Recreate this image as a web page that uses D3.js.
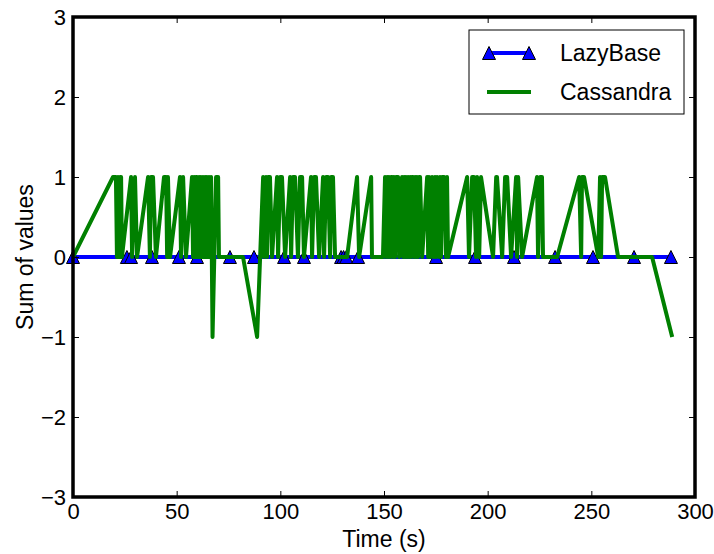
<!DOCTYPE html>
<html>
<head>
<meta charset="utf-8">
<script src="https://cdn.jsdelivr.net/npm/d3@7"></script>
<style>
body { margin: 0; background: #fff; }
text { font-family: "Liberation Sans", Arial, sans-serif; fill: #000; }
</style>
</head>
<body>
<svg id="viz" width="714" height="554"></svg>
<script>

// Data

var lazyTime  = [0, 26.0, 28.0, 38.1, 51.1, 59.8, 75.7, 87.3, 101.8, 111.4, 129.3, 130.5, 131.8, 137.5,
                 175.1, 193.9, 212.7, 232.5, 250.8, 270.6, 288.4];
var lazyValue = [0, 0, 0, 0, 0, 0, 0, 0, 0, 0, 0, 0, 0, 0, 0, 0, 0, 0, 0, 0, 0];

var cassTime = [0,
  19.3, 20.7, 21.2, 21.7, 22.2, 22.7, 23.2, 23.6,
  28.0, 28.5, 29.9, 30.9,
  36.2, 37.1, 37.6, 38.6, 40.0,
  43.9, 44.9, 45.4, 45.8, 46.8,
  51.6, 52.1, 53.1, 54.5,
  57.4, 57.9, 58.4, 58.9, 59.3, 59.8, 60.3, 60.8, 61.3, 61.7, 62.2, 62.7, 63.2, 63.7, 64.2, 64.6, 65.1, 65.6, 66.1, 66.6,
  67.3, 69.0, 70.0, 70.4, 82.0, 88.8, 91.7,
  92.1, 93.1, 93.6, 94.1, 95.0, 96.0,
  98.4, 98.9, 99.9, 100.8, 102.3,
  104.7, 105.2, 106.1, 107.1, 108.5,
  109.5, 110.5, 111.4,
  114.8, 115.3, 116.3, 117.2, 118.7,
  120.6, 121.1, 122.1, 123.0, 124.0, 124.5, 125.4, 126.4,
  132.2, 137.0, 138.0,
  143.8, 144.2, 149.5,
  150.5, 151.0, 151.5, 152.0, 152.4, 152.9, 153.4, 153.9, 154.4, 154.8, 155.3, 155.8, 156.8, 157.3,
  158.7, 159.2, 159.7, 160.2, 160.6, 161.1, 161.6, 162.1, 162.6, 163.0, 163.5, 164.0, 164.5, 165.0, 165.5, 165.9, 166.4, 166.9, 167.4, 168.4,
  170.8, 171.3, 171.7, 172.2, 173.2, 173.7, 174.6, 175.1, 175.6, 176.6, 177.0, 177.5, 178.0, 179.0, 179.9, 180.4, 180.9,
  190.1, 191.0, 192.5, 193.4, 194.4, 194.9, 195.9, 196.8, 202.6,
  204.1, 204.5, 207.0, 208.4, 209.4, 211.3, 213.7, 214.2, 214.7, 216.6,
  223.8, 224.3, 225.3, 226.2, 226.7, 233.5,
  244.1, 245.1, 245.5, 246.5, 253.3,
  254.2, 254.7, 255.2, 256.6, 262.9, 279.3, 289.0];

var cassValue = [0,
  1, 1, 0, 1, 0, 1, 1, 0,
  1, 0, 1, 0,
  1, 0, 1, 1, 0,
  1, 1, 0, 1, 0,
  1, 0, 1, 0,
  1, 0, 1, 0, 1, 1, 0, 1, 0, 1, 0, 1, 0, 1, 0, 1, 0, 1, 0, 1,
  -1, 1, 1, 0, 0, -1, 1,
  0, 1, 0, 1, 1, 0,
  1, 0, 1, 1, 0,
  1, 0, 1, 1, 0,
  1, 1, 0,
  1, 0, 1, 1, 0,
  1, 0, 1, 1, 0, 1, 1, 0,
  0, 1, 0,
  1, 0, 0,
  1, 0, 1, 0, 1, 0, 1, 1, 0, 1, 0, 1, 1, 0,
  1, 0, 1, 0, 1, 0, 1, 0, 1, 0, 1, 1, 0, 1, 0, 1, 0, 1, 1, 0,
  1, 0, 1, 0, 1, 0, 1, 0, 1, 0, 1, 0, 1, 1, 0, 1, 0,
  1, 0, 1, 1, 0, 1, 0, 1, 0,
  1, 1, 0, 1, 1, 0, 1, 0, 1, 0,
  1, 0, 1, 1, 0, 0,
  1, 0, 1, 1, 0,
  1, 0, 1, 1, 0, 0, -1];

var xTicks = [0, 50, 100, 150, 200, 250, 300];
var yTicks = [-3, -2, -1, 0, 1, 2, 3];
var seriesNames = ["LazyBase", "Cassandra"];

// Layout

var svg = d3.select("#viz"),
    plotLeft = 73, plotRight = 695, plotTop = 17, plotBottom = 497;

var x = d3.scaleLinear().domain([0, 300]).range([plotLeft, plotRight]);
var y = d3.scaleLinear().domain([-3, 3]).range([plotBottom, plotTop]);

var lineGen = d3.line()
    .x(d => x(d[0]))
    .y(d => y(d[1]));

// Triangle marker, like matplotlib '^'
var tri = function(s) { return "M0," + (-s) + "L" + s + "," + s + "L" + (-s) + "," + s + "Z"; };

// LazyBase: blue line with triangles

var lazyPts = lazyTime.map((t, i) => [t, lazyValue[i]]);

svg.append("path")
    .attr("d", lineGen(lazyPts))
    .attr("fill", "none")
    .attr("stroke", "#0000ff")
    .attr("stroke-width", 4);

svg.append("g").selectAll("path")
    .data(lazyPts)
    .enter().append("path")
    .attr("transform", d => "translate(" + x(d[0]) + "," + y(d[1]) + ")")
    .attr("d", tri(6.5))
    .attr("fill", "#0000ff")
    .attr("stroke", "#000")
    .attr("stroke-width", 1);

// Cassandra: green line on top

var cassPts = cassTime.map((t, i) => [t, cassValue[i]]);

svg.append("path")
    .attr("d", lineGen(cassPts))
    .attr("fill", "none")
    .attr("stroke", "#008000")
    .attr("stroke-width", 4)
    .attr("stroke-linejoin", "round");

// Axes, ticks point inward

var fmt = d3.format("d");

svg.append("g")
    .attr("transform", "translate(0," + plotBottom + ")")
    .call(d3.axisBottom(x).tickValues(xTicks).tickSize(-6).tickPadding(6).tickFormat(fmt));
svg.append("g")
    .attr("transform", "translate(" + plotLeft + ",0)")
    .call(d3.axisLeft(y).tickValues(yTicks).tickSize(-6).tickPadding(7).tickFormat(fmt));
svg.append("g")
    .attr("transform", "translate(0," + plotTop + ")")
    .call(d3.axisTop(x).tickValues(xTicks).tickSize(-6).tickFormat(""));
svg.append("g")
    .attr("transform", "translate(" + plotRight + ",0)")
    .call(d3.axisRight(y).tickValues(yTicks).tickSize(-6).tickFormat(""));

svg.selectAll(".domain").remove();
svg.selectAll(".tick line").attr("stroke", "#000").attr("stroke-width", 1);
svg.selectAll(".tick text")
    .style("font-family", "'Liberation Sans', Arial, sans-serif")
    .style("font-size", "22px");

// Frame drawn over the lines

svg.append("rect")
    .attr("x", plotLeft).attr("y", plotTop)
    .attr("width", plotRight - plotLeft).attr("height", plotBottom - plotTop)
    .attr("fill", "none")
    .attr("stroke", "#000")
    .attr("stroke-width", 3.5);

// Axis labels

svg.append("text")
    .attr("x", (plotLeft + plotRight) / 2).attr("y", 547)
    .attr("text-anchor", "middle")
    .style("font-size", "23px")
    .text("Time (s)");

svg.append("text")
    .attr("transform", "translate(33," + (plotTop + plotBottom) / 2 + ") rotate(-90)")
    .attr("text-anchor", "middle")
    .style("font-size", "23px")
    .text("Sum of values");

// Legend

var legend = svg.append("g");

legend.append("rect")
    .attr("x", 469).attr("y", 30)
    .attr("width", 215).attr("height", 84)
    .attr("fill", "#fff")
    .attr("stroke", "#000")
    .attr("stroke-width", 1);

legend.append("line")
    .attr("x1", 489).attr("x2", 529).attr("y1", 53).attr("y2", 53)
    .attr("stroke", "#0000ff").attr("stroke-width", 4);

legend.selectAll(".lm")
    .data([489, 529])
    .enter().append("path")
    .attr("transform", d => "translate(" + d + ",53)")
    .attr("d", tri(6.5))
    .attr("fill", "#0000ff")
    .attr("stroke", "#000")
    .attr("stroke-width", 1);

legend.append("line")
    .attr("x1", 487).attr("x2", 531).attr("y1", 92).attr("y2", 92)
    .attr("stroke", "#008000").attr("stroke-width", 4);

legend.selectAll(".lt")
    .data(seriesNames)
    .enter().append("text")
    .attr("x", 560)
    .attr("y", (d, i) => 61 + i * 39)
    .style("font-size", "23px")
    .text(d => d);

</script>
</body>
</html>
